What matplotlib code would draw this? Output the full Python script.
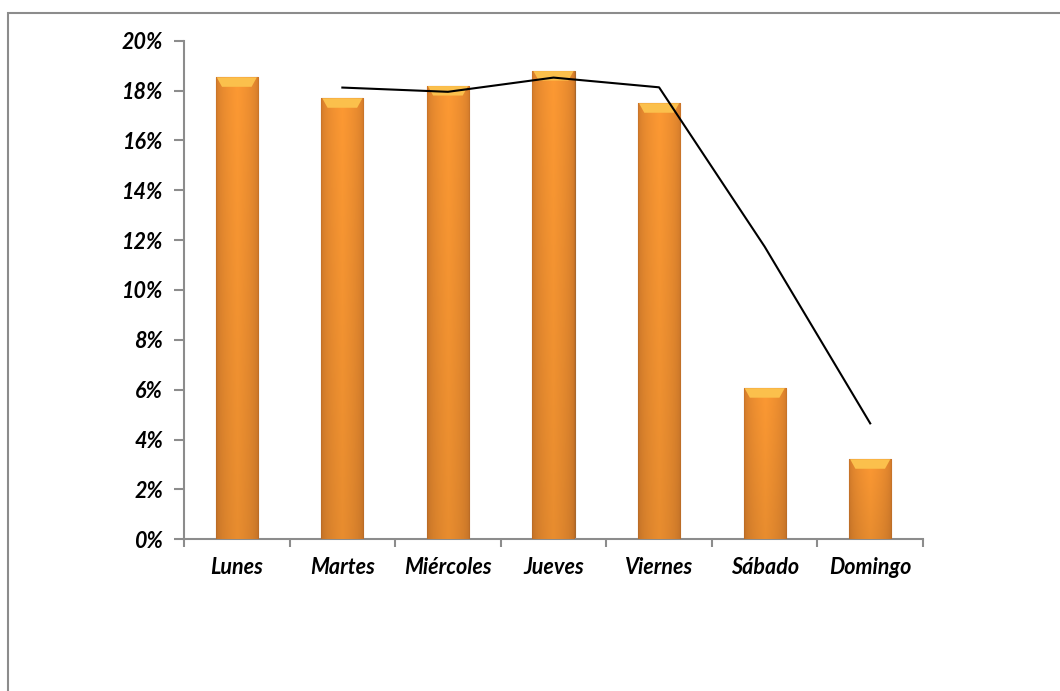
import matplotlib.pyplot as plt
import numpy as np
from matplotlib.patches import Rectangle, Polygon
from matplotlib.ticker import FuncFormatter, MultipleLocator

dias = ['Lunes', 'Martes', 'Miércoles', 'Jueves', 'Viernes', 'Sábado', 'Domingo']
porcentaje = [18.53, 17.69, 18.18, 18.78, 17.49, 6.06, 3.21]
# media movil, no hay valor para Lunes
media_movil = [np.nan, 18.12, 17.95, 18.52, 18.13, 11.74, 4.65]

plt.rcParams['font.family'] = ['Lato', 'DejaVu Sans']
fig = plt.figure(figsize=(10.6, 6.91), dpi=100)
fig.patches.append(Rectangle((8 / 1060, -0.1), 1.2, 1 - 13 / 691 + 0.1, transform=fig.transFigure,
                             fill=False, edgecolor='#8c8c8c', lw=1.5))
ax = fig.add_axes([184 / 1060, 1 - 539.3 / 691, (923 - 184) / 1060, (539.3 - 40.7) / 691])

x = np.arange(len(dias))
w = 0.4
bars = ax.bar(x, porcentaje, width=w, color='#ee8a2a', edgecolor='#a8682c', lw=0.8, zorder=2)

# degradado para dar volumen a las barras (bordes oscuros, arriba mas claro)
gx = np.linspace(0, 1, 64)
gy = np.linspace(0, 1, 64)
prof = (1 - np.abs(gx - 0.5) * 2) ** 0.4
c_edge = np.array([0.78, 0.45, 0.16])
c_mid = np.array([0.99, 0.60, 0.20])
base = c_edge[None, None, :] + (c_mid - c_edge)[None, None, :] * prof[None, :, None]
vert = (0.92 + 0.08 * gy)[::-1][:, None, None]
img = np.clip(base * vert, 0, 1)
for b, v in zip(bars, porcentaje):
    x0 = b.get_x()
    im = ax.imshow(img, extent=[x0, x0 + w, 0, v], aspect='auto', zorder=3)
    im.set_clip_path(b)
    bisel = Polygon([(x0 + 0.01, v), (x0 + w - 0.01, v), (x0 + w - 0.06, v - 0.38), (x0 + 0.06, v - 0.38)],
                    closed=True, color='#fbc04c', lw=0, zorder=4)
    ax.add_patch(bisel)

ax.plot(x, media_movil, color='black', lw=1.5, zorder=5)

ax.set_xlim(-0.5, len(dias) - 0.5)
ax.set_ylim(0, 20)
ax.yaxis.set_major_locator(MultipleLocator(2))
ax.yaxis.set_major_formatter(FuncFormatter(lambda v, p: f'{v:.0f}%'))
ax.set_xticks(x)
ax.set_xticklabels(dias)
ax.set_xticks(np.arange(-0.5, len(dias), 1), minor=True)
ax.tick_params(axis='x', which='major', length=0, pad=13)
ax.tick_params(axis='x', which='minor', length=6, width=1.5, color='#8c8c8c')
ax.tick_params(axis='y', length=7, width=1.5, color='#8c8c8c', pad=8)
for lab in ax.get_xticklabels() + ax.get_yticklabels():
    lab.set_fontsize(15.5)
    lab.set_fontweight('bold')
    lab.set_fontstyle('italic')
for s in ['top', 'right']:
    ax.spines[s].set_visible(False)
for s in ['left', 'bottom']:
    ax.spines[s].set_color('#8c8c8c')
    ax.spines[s].set_linewidth(1.5)

fig.savefig('out.png', dpi=100)
